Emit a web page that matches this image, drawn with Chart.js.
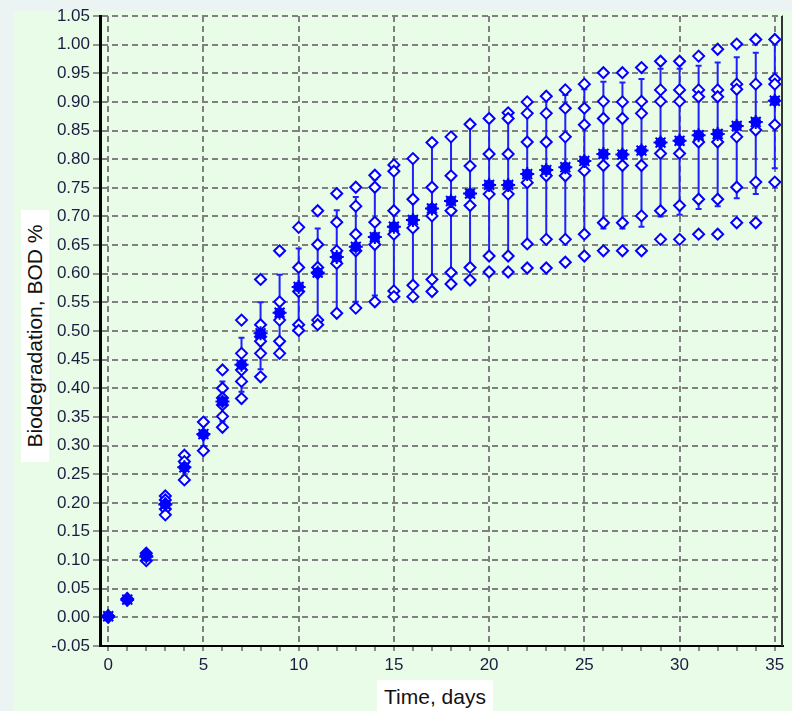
<!DOCTYPE html>
<html>
<head>
<meta charset="utf-8">
<script src="https://cdn.jsdelivr.net/npm/chart.js@4/dist/chart.umd.min.js"></script>
<style>
  html, body { margin: 0; padding: 0; background: #ebf4f3; }
  #panel { position: absolute; left: 13px; top: 11px; width: 779px; height: 700px; background: #e8fce8; }
  #wrap { position: absolute; left: 0; top: 0; width: 792px; height: 711px; }
  .axisTitle { position: absolute; background: #fff; color: #111; font: 21px "Liberation Sans", Arial, sans-serif; white-space: nowrap; }
  #xTitle { left: 377px; top: 680px; width: 116px; height: 31px; line-height: 33px; text-align: center; }
  #yTitle { left: 21px; top: 210px; width: 28px; height: 252px; }
  #yTitle span { position: absolute; left: 50%; top: 50%; transform: translate(-50%, -50%) rotate(-90deg); }
</style>
</head>
<body>
<div id="panel"></div>
<div id="wrap"><canvas id="chart" width="792" height="711"></canvas></div>
<div class="axisTitle" id="yTitle"><span>Biodegradation, BOD %</span></div>
<div class="axisTitle" id="xTitle">Time, days</div>
<script>
// days of the BOD test
const days = [0,1,2,3,4,5,6,7,8,9,10,11,12,13,14,15,16,17,18,19,20,21,22,23,24,25,26,27,28,29,30,31,32,33,34,35];

// mean biodegradation per day
const mean = [0.002,0.031,0.106,0.197,0.262,0.320,0.377,0.441,0.496,0.532,0.577,0.602,0.629,0.647,0.664,0.682,0.694,0.714,0.727,0.740,0.755,0.755,0.774,0.781,0.786,0.797,0.809,0.808,0.815,0.829,0.832,0.842,0.844,0.858,0.865,0.902];

// error bar ends
const errHigh = [null,0.034,0.112,0.209,0.277,0.341,0.412,0.488,0.550,0.598,0.644,0.679,0.711,0.734,0.765,0.790,0.800,0.829,0.839,0.861,0.871,0.871,0.900,0.905,0.912,0.922,0.935,0.934,0.940,0.958,0.958,0.963,0.969,0.978,0.986,1.009];
const errLow = [null,0.028,0.100,0.185,0.247,0.299,0.342,0.394,0.433,0.466,0.510,0.525,0.535,0.551,0.562,0.572,0.582,0.592,0.604,0.612,0.631,0.631,0.652,0.655,0.660,0.669,0.679,0.679,0.682,0.700,0.703,0.713,0.718,0.732,0.739,0.784];

// single replicate values (hollow diamonds), highest to lowest
const rep1 = [0.003,0.033,0.112,0.212,0.283,0.341,0.432,0.519,0.590,0.640,0.681,0.710,0.740,0.751,0.772,0.790,0.801,0.829,0.839,0.861,0.871,0.881,0.900,0.910,0.921,0.931,0.951,0.951,0.960,0.971,0.971,0.980,0.992,1.001,1.009,1.009];
const rep2 = [0.000,0.030,0.108,0.205,0.272,0.319,0.400,0.461,0.511,0.551,0.611,0.651,0.690,0.718,0.751,0.779,0.730,0.751,0.771,0.788,0.809,0.871,0.880,0.880,0.889,0.889,0.901,0.900,0.901,0.921,0.921,0.921,0.921,0.931,0.931,0.940];
const rep3 = [null,null,0.099,0.198,0.262,0.291,0.383,0.432,0.490,0.519,0.569,0.611,0.640,0.669,0.690,0.710,0.680,0.701,0.710,0.719,0.739,0.809,0.830,0.830,0.839,0.860,0.871,0.871,0.880,0.901,0.901,0.909,0.909,0.922,0.851,0.931];
const rep4 = [null,null,null,0.189,0.240,null,0.371,0.412,0.482,0.482,0.511,0.601,0.618,0.640,0.651,0.669,0.580,0.590,0.602,0.611,0.631,0.739,0.759,0.771,0.771,0.780,0.789,0.789,0.789,0.810,0.810,0.830,0.830,0.839,0.760,0.860];
const rep5 = [null,null,null,0.179,null,null,0.351,0.382,0.461,0.461,0.501,0.519,0.531,0.540,0.551,0.570,0.560,0.569,0.582,0.589,0.603,0.631,0.652,0.660,0.660,0.669,0.689,0.689,0.701,0.710,0.719,0.730,0.730,0.751,0.689,0.760];
const rep6 = [null,null,null,null,null,null,0.332,null,0.420,null,null,0.511,null,null,null,0.560,null,null,null,null,null,0.603,0.610,0.610,0.620,0.631,0.640,0.640,0.640,0.660,0.660,0.669,0.669,0.689,null,null];

const BLUE = '#0000ff';

function toPoints(values) {
    return days.map((d, i) => ({ x: d, y: values[i] })).filter(p => p.y !== null);
}

const replicatePoints = [rep1, rep2, rep3, rep4, rep5, rep6].flatMap(toPoints);

// vertical error bars with small caps, drawn under the markers
const errorBars = {
    id: 'errorBars',
    beforeDatasetsDraw(chart) {
        const { ctx, scales: { x, y } } = chart;
        ctx.save();
        ctx.strokeStyle = '#2020ff';
        ctx.lineWidth = 2;
        days.forEach((d, i) => {
            if (errHigh[i] === null) return;
            const px = x.getPixelForValue(d);
            const top = y.getPixelForValue(errHigh[i]);
            const bot = y.getPixelForValue(errLow[i]);
            ctx.beginPath();
            ctx.moveTo(px, top);
            ctx.lineTo(px, bot);
            ctx.moveTo(px - 3, top);
            ctx.lineTo(px + 3, top);
            ctx.moveTo(px - 3, bot);
            ctx.lineTo(px + 3, bot);
            ctx.stroke();
        });
        ctx.restore();
    },
    afterDraw(chart) {
        // right frame line of the plot
        const { ctx, chartArea } = chart;
        ctx.save();
        ctx.strokeStyle = '#333';
        ctx.lineWidth = 2;
        ctx.beginPath();
        ctx.moveTo(chartArea.right - 1, chartArea.top);
        ctx.lineTo(chartArea.right - 1, chartArea.bottom);
        ctx.stroke();
        ctx.restore();
    }
};

const tickFont = { family: '"Liberation Sans", Arial, sans-serif', size: 17 };

new Chart(document.getElementById('chart').getContext('2d'), {
    type: 'scatter',
    data: {
        datasets: [
            {
                label: 'Mean star',
                data: toPoints(mean),
                pointStyle: 'star',
                pointRadius: 7,
                borderColor: BLUE,
                borderWidth: 2,
                backgroundColor: BLUE
            },
            {
                label: 'Mean',
                data: toPoints(mean),
                pointStyle: 'circle',
                pointRadius: 5,
                borderColor: BLUE,
                borderWidth: 1,
                backgroundColor: BLUE
            },
            {
                label: 'Replicates',
                data: replicatePoints,
                pointStyle: 'rectRot',
                pointRadius: 5.5,
                borderColor: BLUE,
                borderWidth: 2,
                backgroundColor: '#ffffff'
            }
        ]
    },
    options: {
        responsive: false,
        animation: false,
        events: [],
        layout: { padding: { top: 16, right: 1, left: 0, bottom: 0 } },
        plugins: {
            legend: { display: false },
            tooltip: { enabled: false }
        },
        scales: {
            x: {
                type: 'linear',
                min: -0.43,
                max: 35.43,
                ticks: {
                    stepSize: 1,
                    includeBounds: false,
                    autoSkip: false,
                    maxRotation: 0,
                    padding: 4,
                    color: '#1c1c40',
                    font: tickFont,
                    callback: v => (v % 5 === 0 ? String(v) : '')
                },
                grid: {
                    color: ctx => (ctx.tick && ctx.tick.value % 5 === 0 ? '#808080' : 'rgba(0,0,0,0)'),
                    lineWidth: 2,
                    tickColor: '#222',
                    tickLength: 5,
                    tickWidth: 1
                },
                border: { color: '#000', width: 2, dash: [6, 4] },
                afterFit: s => { s.height = 65; s.paddingLeft = 0; s.paddingRight = 0; }
            },
            y: {
                type: 'linear',
                min: -0.05,
                max: 1.05,
                ticks: {
                    stepSize: 0.05,
                    padding: 3,
                    color: '#1c1c40',
                    font: tickFont,
                    callback: v => v.toFixed(2)
                },
                grid: {
                    color: '#808080',
                    lineWidth: 2,
                    tickColor: '#333',
                    tickLength: 7,
                    tickWidth: 1
                },
                border: { color: '#000', width: 3, dash: [6, 4] },
                afterFit: s => { s.width = 100; s.paddingTop = 0; s.paddingBottom = 0; }
            }
        }
    },
    plugins: [errorBars]
});
</script>
</body>
</html>
